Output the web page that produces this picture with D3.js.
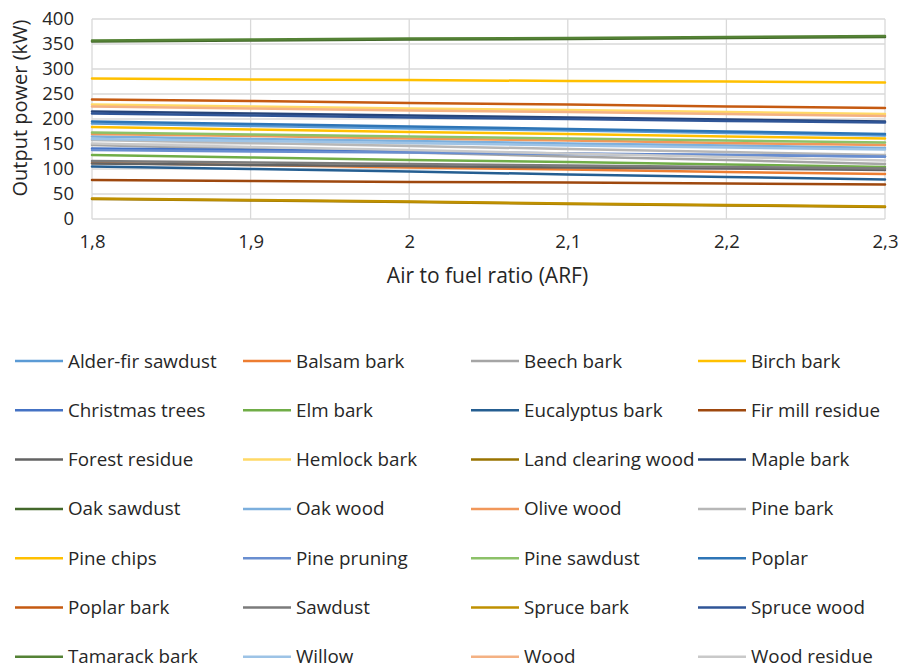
<!DOCTYPE html>
<html><head><meta charset="utf-8">
<script src="https://cdn.jsdelivr.net/npm/d3@7"></script>
<style>body{margin:0;background:#fff}svg{display:block}</style>
</head><body><svg id="c" width="900" height="668"></svg>
<script>
const xValues = [1.8, 1.9, 2.0, 2.1, 2.2, 2.3];
const xTickLabels = ["1,8", "1,9", "2", "2,1", "2,2", "2,3"];
const yTicks = [0, 50, 100, 150, 200, 250, 300, 350, 400];
const seriesNames = ["Alder-fir sawdust","Balsam bark","Beech bark","Birch bark","Christmas trees","Elm bark","Eucalyptus bark","Fir mill residue","Forest residue","Hemlock bark","Land clearing wood","Maple bark","Oak sawdust","Oak wood","Olive wood","Pine bark","Pine chips","Pine pruning","Pine sawdust","Poplar","Poplar bark","Sawdust","Spruce bark","Spruce wood","Tamarack bark","Willow","Wood","Wood residue"];
const seriesColors = ["#5B9BD5","#ED7D31","#A5A5A5","#FFC000","#4472C4","#70AD47","#255E91","#9E480E","#636363","#FFD966","#997300","#264478","#43682B","#7CAFDD","#F1975A","#B7B7B7","#FFC000","#698ED0","#8CC168","#2E75B6","#C55A11","#7B7B7B","#BF9000","#2F5597","#548235","#9DC3E6","#F4B183","#C9C9C9"];
const seriesValues = [
 [191,186,181,177,172,167], // Alder-fir sawdust
 [112,108,103,99,94,90],    // Balsam bark
 [148,140,133,125,118,110], // Beech bark
 [281,279,278,276,275,273], // Birch bark
 [141,138,135,131,128,125], // Christmas trees
 [128,123,118,114,109,104], // Elm bark
 [105,100,95,89,84,79],     // Eucalyptus bark
 [78,76,74,73,71,69],       // Fir mill residue
 [111,108,106,103,101,98],  // Forest residue
 [229,225,221,218,214,210], // Hemlock bark
 [40,37,34,30,27,24],       // Land clearing wood
 [215,211,207,203,199,195], // Maple bark
 [355,357,359,360,362,364], // Oak sawdust
 [165,160,156,151,147,142], // Oak wood
 [170,166,161,157,152,148], // Olive wood
 [158,152,146,140,134,128], // Pine bark
 [184,179,174,170,165,161], // Pine chips
 [138,135,133,130,128,125], // Pine pruning
 [173,169,165,161,157,153], // Pine sawdust
 [195,190,185,180,175,170], // Poplar
 [239,236,232,229,225,222], // Poplar bark
 [116,113,110,107,104,101], // Sawdust
 [41,38,35,31,28,25],       // Spruce bark
 [211,207,203,200,196,193], // Spruce wood
 [357,359,361,362,364,366], // Tamarack bark
 [160,156,152,147,143,139], // Willow
 [225,221,217,214,210,206], // Wood
 [151,144,138,131,124,117]  // Wood residue
];

const svg = d3.select("#c");
const font = "'Open Sans', sans-serif";
const txt = "#262626";
const m = {left: 92, right: 885, top: 19, bottom: 219};
const x = d3.scaleLinear().domain([1.8, 2.3]).range([m.left, m.right]);
const y = d3.scaleLinear().domain([0, 400]).range([m.bottom, m.top]);

// gridlines
svg.append("g").selectAll("line.h").data(yTicks).join("line")
  .attr("x1", m.left).attr("x2", m.right)
  .attr("y1", d => y(d)).attr("y2", d => y(d))
  .attr("stroke", "#D9D9D9").attr("stroke-width", 1.3);
svg.append("g").selectAll("line.v").data(xValues).join("line")
  .attr("x1", d => x(d)).attr("x2", d => x(d))
  .attr("y1", m.top).attr("y2", m.bottom)
  .attr("stroke", "#D9D9D9").attr("stroke-width", 1.3);

// y axis labels
const yAxis = d3.axisLeft(y).tickValues(yTicks).tickSize(0).tickPadding(18);
const gy = svg.append("g").attr("transform", `translate(${m.left},0)`).call(yAxis);
gy.select(".domain").remove();
gy.selectAll("text").attr("font-family", font).attr("font-size", 18.5).attr("fill", txt);

// x axis labels
const xAxis = d3.axisBottom(x).tickValues(xValues).tickFormat((d, i) => xTickLabels[i]).tickSize(0).tickPadding(16);
const gx = svg.append("g").attr("transform", `translate(0,${m.bottom})`).call(xAxis);
gx.select(".domain").remove();
gx.selectAll("text").attr("font-family", font).attr("font-size", 18.5).attr("fill", txt);

// axis titles
svg.append("text").attr("x", (m.left + m.right) / 2 - 1).attr("y", 283)
  .attr("text-anchor", "middle").attr("font-family", font).attr("font-size", 21)
  .attr("fill", txt).text("Air to fuel ratio (ARF)");
svg.append("text").attr("transform", `translate(27,108) rotate(-90)`)
  .attr("text-anchor", "middle").attr("font-family", font).attr("font-size", 20)
  .attr("fill", txt).text("Output power (kW)");

// lines
const line = d3.line().x((d, i) => x(xValues[i])).y(d => y(d));
svg.append("g").selectAll("path").data(seriesValues).join("path")
  .attr("d", d => line(d)).attr("fill", "none")
  .attr("stroke", (d, i) => seriesColors[i]).attr("stroke-width", 2.5)
  .attr("stroke-linecap", "round");

// legend
const colX = [15, 243, 471, 698];
const rowY0 = 361, rowDy = 49.3;
const lg = svg.append("g").selectAll("g").data(seriesNames).join("g")
  .attr("transform", (d, i) => `translate(${colX[i % 4]},${rowY0 + Math.floor(i / 4) * rowDy})`);
lg.append("line").attr("x1", 0).attr("x2", 48).attr("y1", 0).attr("y2", 0)
  .attr("stroke", (d, i) => seriesColors[i]).attr("stroke-width", 2.5);
lg.append("text").attr("x", 53).attr("y", 0).attr("dy", "0.35em")
  .attr("font-family", font).attr("font-size", 18.8).attr("fill", txt).text(d => d);
</script></body></html>
